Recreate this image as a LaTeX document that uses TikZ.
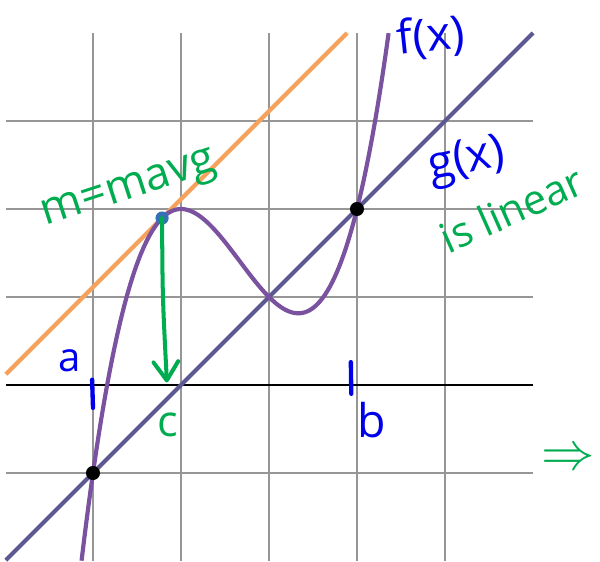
\documentclass[tikz,border=0pt]{standalone}
\usepackage{fontspec}
\setmainfont{Open Sans}
\usetikzlibrary{arrows.meta}
\definecolor{fcol}{RGB}{122,82,160}
\definecolor{gcol}{RGB}{92,88,145}
\definecolor{ocol}{RGB}{246,162,92}
\definecolor{hgreen}{RGB}{0,172,80}
\definecolor{hblue}{RGB}{0,0,235}
\definecolor{dotblue}{RGB}{52,112,180}
\definecolor{gridcol}{RGB}{150,150,150}
\begin{document}
\begin{tikzpicture}[x=1cm,y=1cm,
  gridline/.style={gridcol, line width=0.45pt},
  axisline/.style={black, line width=0.9pt},
  curve/.style={line width=1.35pt},
  hand/.style={inner sep=0pt},
  greentext/.style={hand, text=hgreen},
  bluetext/.style={hand, text=hblue},
  tickmark/.style={hblue, line width=1.4pt, line cap=round},
  blackdot/.style={circle, fill=black, inner sep=0pt, minimum size=0.16cm},
  bluedot/.style={circle, fill=dotblue, inner sep=0pt, minimum size=0.15cm},
  harrow/.style={hgreen, line width=1.3pt, line cap=round, -{Straight Barb[length=6pt,width=8pt,round]}}
]
\useasboundingbox (-3.0568,-2) rectangle (3.7614,4.375);
% grid
\foreach \x in {-2,...,2} \draw[gridline] (\x,-2) -- (\x,4);
\foreach \y in {-1,1,2,3} \draw[gridline] (-2.99,\y) -- (3,\y);
\draw[axisline] (-2.99,0) -- (3,0);
% curves
\draw[curve, ocol] (-2.99,0.122) -- (0.888,4);
\draw[curve, gcol] (-2.99,-1.99) -- (3,4);
\draw[curve, fcol] plot[domain=-2.13:1.36, samples=140, smooth] (\x, {\x*\x*\x+\x*\x-\x+1});
% points
\node[blackdot] (A) at (-2,-1) {};
\node[blackdot] (B) at (1,2) {};
\node[bluedot] (P) at (-1.215,1.897) {};
\coordinate (Cpt) at (-1.16,0.03);
\draw[harrow] (P.center) .. controls (-1.21,1.0) .. (Cpt);
% tick marks
\coordinate (ta1) at (-2.01,0.06);
\coordinate (ta2) at (-2.0,-0.26);
\draw[tickmark] (ta1) -- (ta2);
\coordinate (tb1) at (0.93,0.26);
\coordinate (tb2) at (0.935,-0.10);
\draw[tickmark] (tb1) -- (tb2);
% labels
\node[bluetext, font=\fontsize{15}{17}\selectfont, rotate=6] (fl) at (1.84,3.95) {f(x)};
\node[bluetext, font=\fontsize{15}{17}\selectfont, rotate=12] (gl) at (2.25,2.54) {g(x)};
\node[greentext, font=\fontsize{13.5}{16}\selectfont, rotate=24] (lin) at (2.76,2.0) {is linear};
\node[greentext, font=\fontsize{14.5}{16}\selectfont, rotate=18] (mavg) at (-1.58,2.2) {m=mavg};
\node[bluetext, font=\fontsize{13}{15}\selectfont] (al) at (-2.27,0.27) {a};
\node[greentext, font=\fontsize{14}{16}\selectfont] (cl) at (-1.15,-0.45) {c};
\node[bluetext, font=\fontsize{15}{17}\selectfont] (bl) at (1.17,-0.40) {b};
\node[greentext, font=\fontsize{18}{20}\selectfont] (impl) at (3.40,-0.85) {$\Rightarrow$};
\end{tikzpicture}
\end{document}
